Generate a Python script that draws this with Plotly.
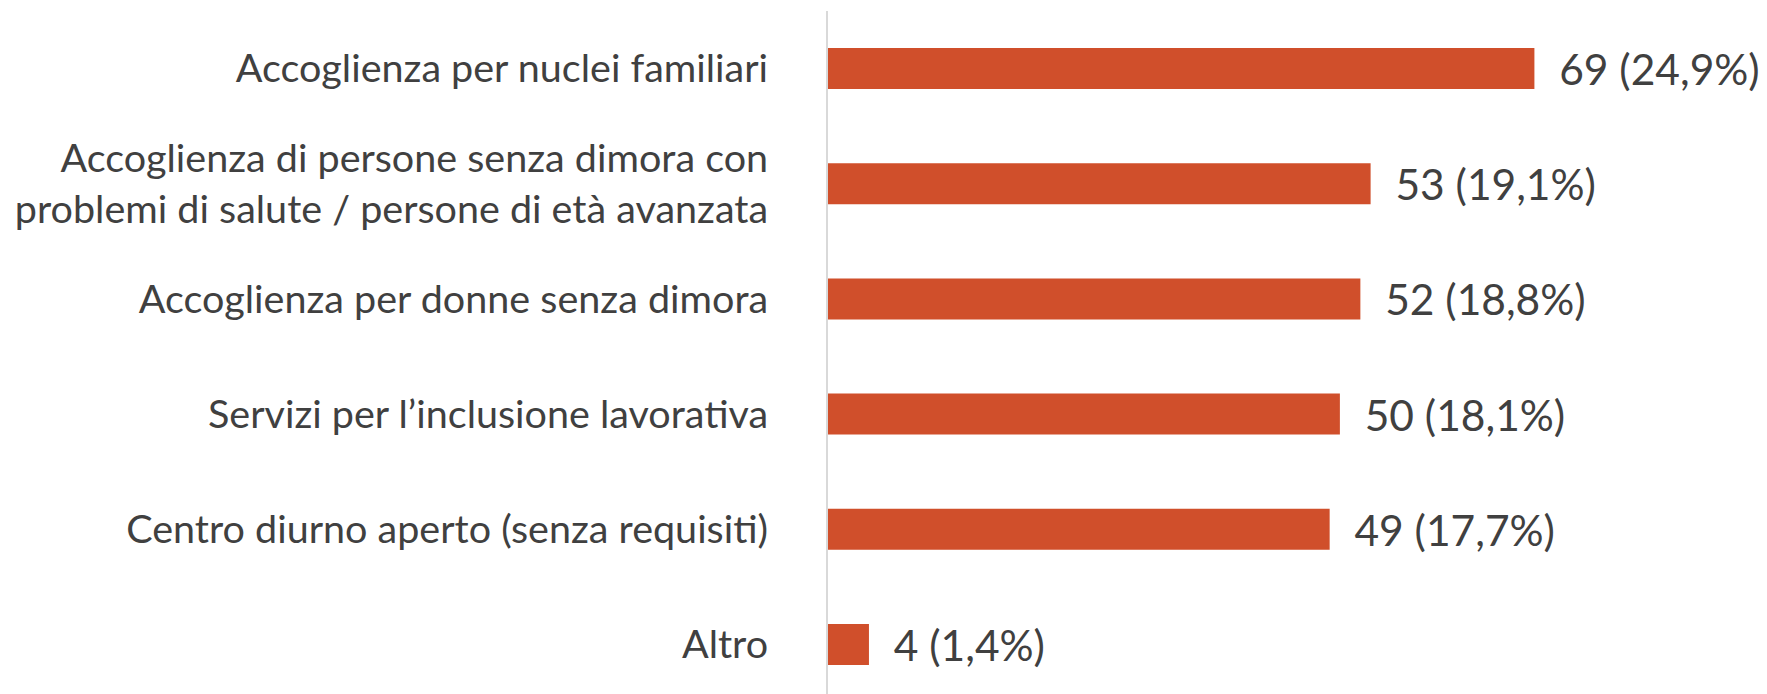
import plotly.graph_objects as go

categories = [
    "Accoglienza per nuclei familiari",
    "Accoglienza di persone senza dimora con<br>problemi di salute / persone di età avanzata",
    "Accoglienza per donne senza dimora",
    "Servizi per l’inclusione lavorativa",
    "Centro diurno aperto (senza requisiti)",
    "Altro",
]
values = [69, 53, 52, 50, 49, 4]
percents = ["24,9%", "19,1%", "18,8%", "18,1%", "17,7%", "1,4%"]

labels = [f"  {v} ({p})" for v, p in zip(values, percents)]
ypos = list(range(len(categories)))

fig = go.Figure(
    go.Bar(
        x=values,
        y=ypos,
        orientation="h",
        width=0.356,
        marker=dict(color="#D04F2B", line=dict(width=0)),
        text=labels,
        textposition="outside",
        constraintext="none",
        textfont=dict(family="Lato", size=42.5, color="#404040"),
        cliponaxis=False,
        hoverinfo="skip",
    )
)

fig.update_layout(
    width=1767,
    height=694,
    margin=dict(l=820, r=0, t=3, b=0),
    paper_bgcolor="white",
    plot_bgcolor="white",
    showlegend=False,
    font=dict(family="Lato", color="#404040"),
)
fig.update_xaxes(
    range=[0, 92.5],
    visible=False,
    showgrid=False,
    zeroline=False,
)
fig.update_yaxes(
    range=[5.5, -0.5],
    tickmode="array",
    tickvals=ypos,
    ticktext=categories,
    tickfont=dict(family="Lato", size=39.5, color="#404040"),
    showgrid=False,
    zeroline=False,
    showline=True,
    linecolor="#D9D9D9",
    linewidth=2,
    ticks="",
    ticklabelstandoff=50,
)

fig.write_html("out.html")
